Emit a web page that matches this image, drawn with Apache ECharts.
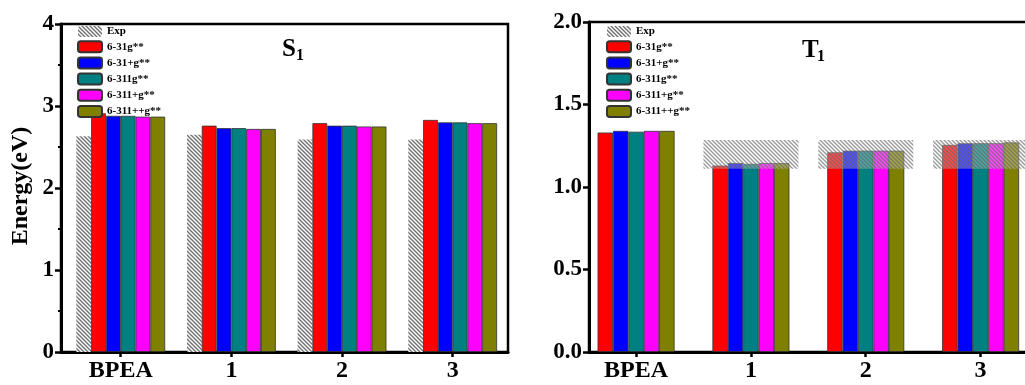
<!DOCTYPE html>
<html>
<head>
<meta charset="utf-8">
<script src="https://cdn.jsdelivr.net/npm/echarts@6/dist/echarts.min.js"></script>
<style>
  html, body { margin: 0; padding: 0; background: #fff; }
  #chart { width: 1025px; height: 385px; }
</style>
</head>
<body>
<div id="chart"></div>
<script>
// data
const categories = ['BPEA', '1', '2', '3'];
const basisSets = ['6-31g**', '6-31+g**', '6-311g**', '6-311+g**', '6-311++g**'];
const basisColors = ['#ff0000', '#0000ff', '#008080', '#ff00ff', '#808000'];

// S1 panel
const s1Exp = [2.63, 2.65, 2.59, 2.59];
const s1_631g = [2.91, 2.76, 2.79, 2.83];
const s1_631pg = [2.88, 2.73, 2.76, 2.80];
const s1_6311g = [2.88, 2.73, 2.76, 2.80];
const s1_6311pg = [2.87, 2.72, 2.75, 2.79];
const s1_6311ppg = [2.87, 2.72, 2.75, 2.79];

// T1 panel
const t1_631g = [1.33, 1.13, 1.21, 1.255];
const t1_631pg = [1.34, 1.145, 1.22, 1.265];
const t1_6311g = [1.335, 1.14, 1.22, 1.265];
const t1_6311pg = [1.34, 1.145, 1.22, 1.265];
const t1_6311ppg = [1.34, 1.145, 1.22, 1.27];
const t1ExpLow = [null, 1.11, 1.11, 1.11];
const t1ExpHigh = [null, 1.285, 1.285, 1.285];

const s1Calc = [s1_631g, s1_631pg, s1_6311g, s1_6311pg, s1_6311ppg];
const t1Calc = [t1_631g, t1_631pg, t1_6311g, t1_6311pg, t1_6311ppg];

const FONT = 'Liberation Serif';

// diagonal "\" hatch used for the experimental values
function hatch(line, bg) {
    const c = document.createElement('canvas');
    c.width = c.height = 4;
    const g = c.getContext('2d');
    if (bg) { g.fillStyle = bg; g.fillRect(0, 0, 4, 4); }
    g.strokeStyle = line;
    g.lineWidth = 1.4;
    g.beginPath();
    g.moveTo(-1, -1); g.lineTo(5, 5);
    g.moveTo(3, -1); g.lineTo(5, 1);
    g.moveTo(-1, 3); g.lineTo(1, 5);
    g.stroke();
    return { image: c, repeat: 'repeat' };
}

const xPos = categories.map((_, i) => i + 1);
const pairs = (vals) => vals.map((v, i) => [xPos[i], v]);

const tickLabel = { fontFamily: FONT, fontWeight: 'bold', fontSize: 23, color: '#000' };

function xAxisFor(grid, min, max) {
    return {
        type: 'value', gridIndex: grid, min: min, max: max,
        splitLine: { show: false },
        axisLine: { show: true, onZero: false, lineStyle: { color: '#000', width: 3 } },
        axisTick: { show: true, customValues: xPos, length: 5, lineStyle: { color: '#000', width: 2.5 } },
        axisLabel: Object.assign({ customValues: xPos, margin: 7, formatter: (v) => categories[Math.round(v) - 1] }, tickLabel, { fontSize: 24 })
    };
}

const barBorder = { borderColor: '#333', borderWidth: 0.8 };

const series = [];
// S1: experimental bar first, then the five basis sets
series.push({
    type: 'bar', name: 'Exp', xAxisIndex: 0, yAxisIndex: 0,
    barWidth: 14.8, barGap: '0%',
    itemStyle: { color: hatch('#707070', '#fff') },
    data: pairs(s1Exp)
});
s1Calc.forEach((vals, k) => series.push({
    type: 'bar', name: basisSets[k], xAxisIndex: 0, yAxisIndex: 0,
    barWidth: 14.8, barGap: '0%',
    itemStyle: Object.assign({ color: basisColors[k] }, barBorder),
    data: pairs(vals)
}));
// T1: five basis sets
t1Calc.forEach((vals, k) => series.push({
    type: 'bar', name: basisSets[k], xAxisIndex: 1, yAxisIndex: 1,
    barWidth: 15.4, barGap: '0%',
    itemStyle: Object.assign({ color: basisColors[k] }, barBorder),
    data: pairs(vals)
}));
// T1 experimental range: floating hatched band drawn over the bars
const bandWidth = 95;
series.push({
    type: 'custom', name: 'Exp', coordinateSystem: 'cartesian2d', xAxisIndex: 1, yAxisIndex: 1,
    z: 5,
    itemStyle: { color: hatch('rgba(100,100,100,0.65)', 'rgba(255,255,255,0.3)') },
    encode: { x: 0, y: [1, 2] },
    data: xPos.map((x, i) => [x, t1ExpLow[i], t1ExpHigh[i]]).filter((d) => d[1] != null),
    renderItem: (params, api) => {
        const lo = api.coord([api.value(0), api.value(1)]);
        const hi = api.coord([api.value(0), api.value(2)]);
        return {
            type: 'rect',
            shape: { x: lo[0] - bandWidth / 2, y: hi[1], width: bandWidth, height: lo[1] - hi[1] },
            style: api.style()
        };
    }
});

const legendText = { fontFamily: FONT, fontWeight: 'bold', fontSize: 11, color: '#000' };
const legendData = ['Exp'].concat(basisSets);

const gridBox = { show: true, borderColor: '#000', borderWidth: 2.5, backgroundColor: 'transparent', outerBoundsMode: 'none', containLabel: false };

const option = {
    animation: false,
    backgroundColor: '#fff',
    grid: [
        Object.assign({ left: 61, top: 24, width: 447, height: 328 }, gridBox),
        Object.assign({ left: 589, top: 22, width: 449, height: 330 }, gridBox)
    ],
    xAxis: [
        xAxisFor(0, 0.46, 4.5),
        xAxisFor(1, 0.59, 4.5)
    ],
    yAxis: [
        {
            type: 'value', gridIndex: 0, min: 0, max: 4, interval: 1,
            splitLine: { show: false },
            axisLine: { show: true, lineStyle: { color: '#000', width: 3 } },
            axisTick: { show: true, length: 6, lineStyle: { color: '#000', width: 2.5 } },
            minorTick: { show: true, splitNumber: 2, length: 3, lineStyle: { color: '#000', width: 2 } },
            axisLabel: Object.assign({ margin: 7 }, tickLabel)
        },
        {
            type: 'value', gridIndex: 1, min: 0, max: 2, interval: 0.5,
            splitLine: { show: false },
            axisLine: { show: true, lineStyle: { color: '#000', width: 3 } },
            axisTick: { show: true, length: 6, lineStyle: { color: '#000', width: 2.5 } },
            axisLabel: Object.assign({ margin: 7, formatter: (v) => v.toFixed(1) }, tickLabel)
        }
    ],
    legend: [
        {
            left: 77, top: 26, orient: 'vertical', itemWidth: 24, itemHeight: 11, itemGap: 3.2,
            selectedMode: false, textStyle: legendText, padding: 0,
            data: legendData
        },
        {
            left: 606, top: 26, orient: 'vertical', itemWidth: 24, itemHeight: 11, itemGap: 3.2,
            selectedMode: false, textStyle: legendText, padding: 0,
            data: legendData
        }
    ],
    graphic: [
        { type: 'text', left: 282, top: 37, style: { text: 'S', font: 'bold 25px "' + FONT + '"', fill: '#000' } },
        { type: 'text', left: 296, top: 48, style: { text: '1', font: 'bold 16px "' + FONT + '"', fill: '#000' } },
        { type: 'text', left: 802, top: 38, style: { text: 'T', font: 'bold 25px "' + FONT + '"', fill: '#000' } },
        { type: 'text', left: 817, top: 49, style: { text: '1', font: 'bold 16px "' + FONT + '"', fill: '#000' } },
        {
            type: 'text', x: 21, y: 186, rotation: Math.PI / 2,
            style: { text: 'Energy(eV)', font: 'bold 24px "' + FONT + '"', fill: '#000', align: 'center', verticalAlign: 'middle' }
        }
    ],
    series: series
};

const chart = echarts.init(document.getElementById('chart'));
chart.setOption(option);
</script>
</body>
</html>
